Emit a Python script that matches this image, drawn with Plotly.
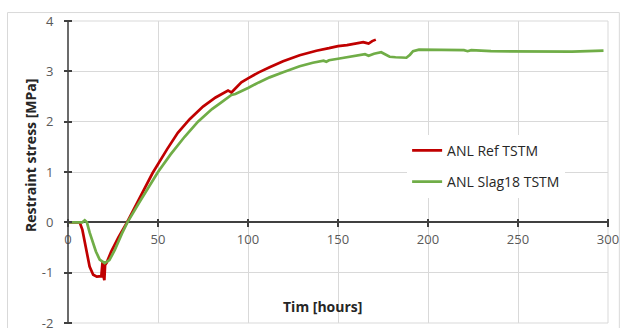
import plotly.graph_objects as go

# ---- data ----
ref_t = [0, 6.5, 8, 10, 12, 14, 16, 18.5, 19.2, 19.6, 20.2, 20.6, 21.5, 24, 28, 32.8,
         36, 40, 47, 55, 61, 67.6, 75, 82, 88.9, 90.8, 93, 96.3, 100, 106, 112, 119.5,
         128.7, 138, 145, 150, 155, 158, 164, 165, 167, 169, 171]
ref_s = [0, 0, -0.15, -0.55, -0.88, -1.04, -1.08, -1.07, -0.78, -1.05, -1.15, -0.85, -0.8, -0.58, -0.3, 0,
         0.22, 0.48, 0.98, 1.45, 1.78, 2.05, 2.3, 2.48, 2.62, 2.58, 2.66, 2.78, 2.86, 2.98, 3.08, 3.2,
         3.32, 3.41, 3.46, 3.5, 3.52, 3.54, 3.58, 3.57, 3.55, 3.6, 3.63]

slag_t = [0, 8, 9.3, 10.5, 12, 13.9, 15.5, 17.6, 20.4, 23, 26, 30, 33, 40, 45, 50, 57, 64.8,
          72.2, 80, 85, 90.8, 93, 95, 100, 106, 112, 119.5, 128.7, 136, 142, 143.5, 145, 150,
          156.5, 162, 165, 167, 170, 174, 176, 178.7, 182, 188, 190, 191.7, 195, 210, 220,
          222, 224, 235, 259, 280, 297.5]
slag_s = [0, 0, 0.04, 0, -0.2, -0.4, -0.58, -0.74, -0.81, -0.75, -0.55, -0.22, 0, 0.42, 0.72, 1.0, 1.35, 1.7,
          2.0, 2.25, 2.38, 2.53, 2.55, 2.58, 2.67, 2.78, 2.88, 2.98, 3.1, 3.17, 3.21, 3.19, 3.22, 3.25,
          3.29, 3.31, 3.34, 3.31, 3.35, 3.38, 3.34, 3.29, 3.28, 3.27, 3.33, 3.4, 3.43, 3.43, 3.42,
          3.40, 3.42, 3.40, 3.39, 3.39, 3.41]

x_ticks = [0, 50, 100, 150, 200, 250, 300]
y_ticks = [-2, -1, 0, 1, 2, 3, 4]
y_labels = ["-2", "-1", "0", "1", "2", "3", "4"]

FONT = "Open Sans"
AX = "#404040"
GRID = "#d9d9d9"
W, H = 620, 328
ML, MR, MT, MB = 68, 12, 21, 5
PW, PH = W - ML - MR, H - MT - MB
TK = 4  # half length of the crossing ticks, px

fig = go.Figure()
fig.add_trace(go.Scatter(x=ref_t, y=ref_s, mode="lines", name="ANL Ref TSTM",
                         line=dict(color="#C00000", width=2.7), legendgroup="a"))
fig.add_trace(go.Scatter(x=slag_t, y=slag_s, mode="lines", name="ANL Slag18 TSTM",
                         line=dict(color="#70AD47", width=2.7), legendgroup="b"))

tickfont = dict(family=FONT, size=13, color="#595959")
zero_pos = (0 - (-2)) / (4 - (-2))

fig.update_layout(
    width=W, height=H,
    margin=dict(l=ML, r=MR, t=MT, b=MB, autoexpand=False),
    plot_bgcolor="white", paper_bgcolor="white",
    showlegend=True,
    # x axis: ticks hang from TK px above the zero line to TK px below it
    xaxis=dict(range=[0, 300], tickvals=x_ticks, automargin=False, zeroline=False,
               showgrid=True, gridcolor=GRID, gridwidth=1,
               anchor="free", position=zero_pos + TK / PH, showline=False,
               ticks="outside", ticklen=2 * TK, tickcolor=AX, tickwidth=1.5,
               tickfont=tickfont, ticklabelstandoff=1, ticklabeloverflow="allow"),
    # y axis: ticks span TK px on both sides of the left edge; zero line = x axis line
    yaxis=dict(range=[-2, 4], tickvals=y_ticks, ticktext=y_labels, automargin=False,
               showgrid=True, gridcolor=GRID, gridwidth=1,
               anchor="free", position=TK / PW, showline=False,
               ticks="outside", ticklen=2 * TK, tickcolor=AX, tickwidth=1.5,
               tickfont=tickfont, ticklabelstandoff=8, ticklabeloverflow="allow",
               zeroline=True, zerolinecolor=AX, zerolinewidth=1.5),
    legend=dict(x=0.628, y=0.623, xanchor="left", yanchor="top", bgcolor="white",
                font=dict(family=FONT, size=14, color="#262626"), tracegroupgap=10,
                traceorder="grouped"),
    shapes=[
        # outer chart border
        dict(type="rect", xref="paper", yref="paper", x0=-0.112, x1=1.021,
             y0=-0.06, y1=1.028, line=dict(color=GRID, width=1), layer="below"),
        # plot-area frame (grid ends)
        dict(type="rect", xref="paper", yref="paper", x0=0, x1=1, y0=0, y1=1,
             line=dict(color=GRID, width=1), layer="below"),
        # vertical axis line at the left edge
        dict(type="line", xref="paper", yref="paper", x0=0, x1=0, y0=0, y1=1,
             line=dict(color=AX, width=1.5), layer="above"),
    ],
    annotations=[
        dict(text="<b>Restraint stress [MPa]</b>", xref="paper", yref="paper",
             x=-0.0704, y=0.556, xanchor="center", yanchor="middle", textangle=-90,
             showarrow=False, font=dict(family=FONT, size=14, color="#262626")),
        dict(text="<b>Tim [hours]</b>", xref="paper", yref="paper",
             x=0.472, y=0.053, xanchor="center", yanchor="middle", showarrow=False,
             font=dict(family=FONT, size=14, color="#262626")),
    ],
)

fig.write_html("out.html", config={"displayModeBar": False},
               post_script="document.body.style.margin='0';document.body.style.padding='0';")
